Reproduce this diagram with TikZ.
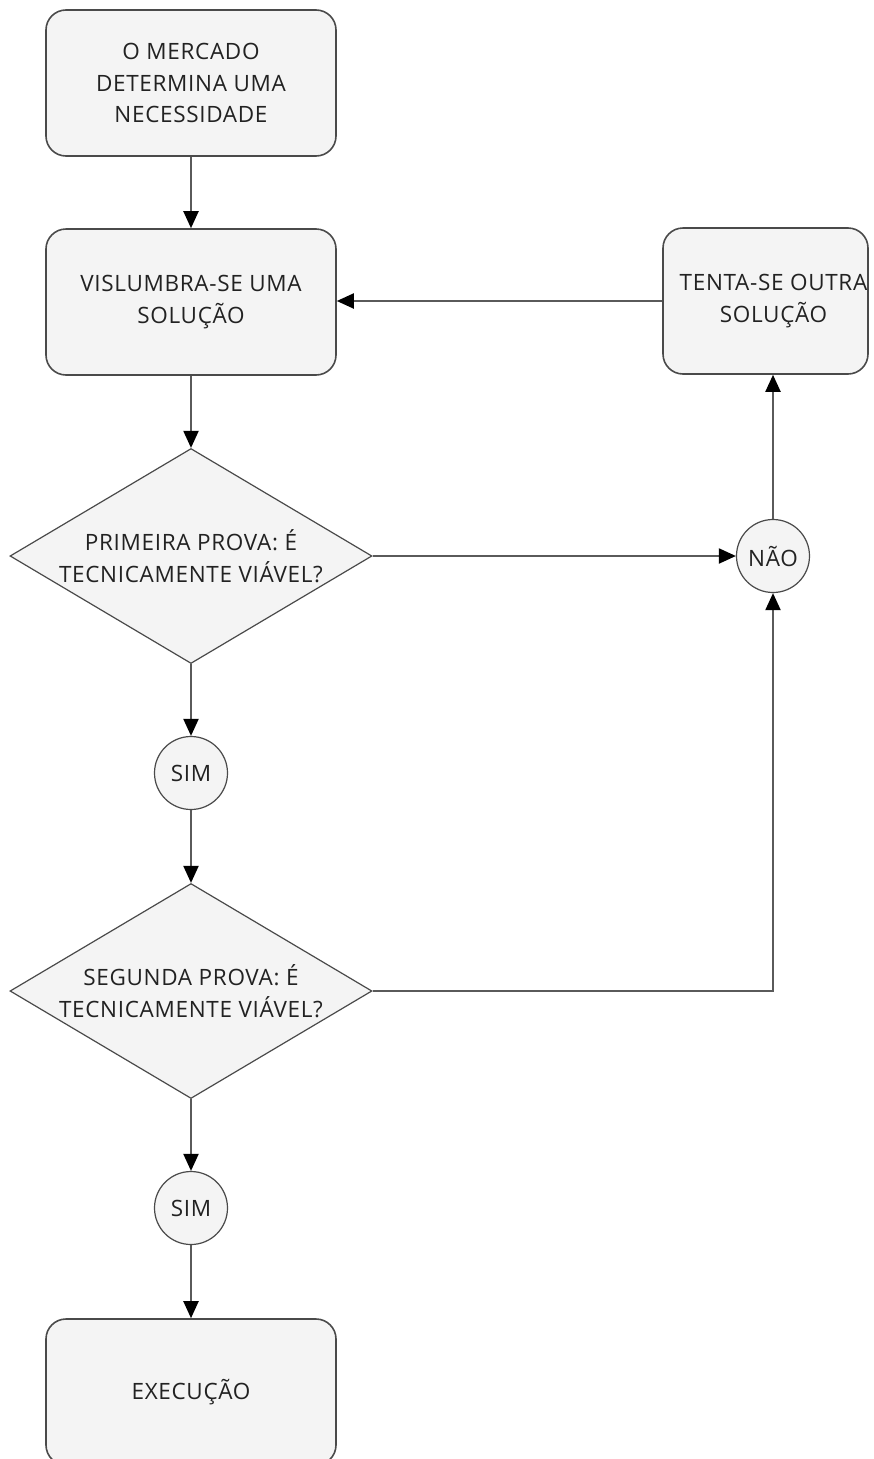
\documentclass[tikz,border=0pt]{standalone}
\usepackage{fontspec}
\setmainfont[LetterSpace=3]{Open Sans}
\usetikzlibrary{shapes.geometric,arrows.meta}
\definecolor{boxfill}{HTML}{F4F4F4}
\definecolor{boxline}{HTML}{4A4A4A}
\definecolor{conn}{HTML}{5A5A5A}
\definecolor{txt}{HTML}{222222}
\tikzset{
  base/.style={draw=boxline, fill=boxfill, line width=1.6pt, text=txt, align=center,
    font=\fontsize{22.5}{31.5}\selectfont},
  stepbox/.style={base, rectangle, rounded corners=20pt, minimum width=290pt, minimum height=146pt, inner sep=0pt},
  decision/.style={base, diamond, aspect=1.68, inner sep=0pt, minimum width=362pt, minimum height=215pt, line width=1.2pt},
  answer/.style={base, circle, minimum size=73pt, inner sep=0pt, line width=1.2pt},
  conn/.style={draw=conn, line width=2pt, -{Triangle[width=15pt,length=17pt,fill=black,color=black]}}
}
\begin{document}
\begin{tikzpicture}[x=1pt,y=-1pt]
\useasboundingbox (0,0) rectangle (873,1459);
\node[stepbox] (n1) at (191,83) {O MERCADO\\DETERMINA UMA\\NECESSIDADE};
\node[stepbox] (n2) at (191,302) {VISLUMBRA-SE UMA\\SOLUÇÃO};
\node[stepbox, minimum width=205pt, minimum height=146pt] (tenta) at (765.5,301) {\hspace*{16pt}TENTA-SE OUTRA\\\hspace*{16pt}SOLUÇÃO};
\node[decision] (d1) at (191,556) {PRIMEIRA PROVA: É\\TECNICAMENTE VIÁVEL?};
\node[answer] (nao) at (773,556) {NÃO};
\node[answer] (sim1) at (191,773) {SIM};
\node[decision] (d2) at (191,991) {SEGUNDA PROVA: É\\TECNICAMENTE VIÁVEL?};
\node[answer] (sim2) at (191,1208) {SIM};
\node[stepbox] (exec) at (191,1392) {EXECUÇÃO};
\draw[conn] (n1.south) -- (n2.north);
\draw[conn] (n2.south) -- (d1.north);
\draw[conn] (tenta.west) -- (tenta.west -| n2.east);
\draw[conn] (d1.east) -- (nao.west);
\draw[conn] (nao.north) -- (nao.north |- tenta.south);
\draw[conn] (d1.south) -- (sim1.north);
\draw[conn] (sim1.south) -- (d2.north);
\draw[conn] (d2.east) -| (nao.south);
\draw[conn] (d2.south) -- (sim2.north);
\draw[conn] (sim2.south) -- (exec.north);
\end{tikzpicture}
\end{document}
